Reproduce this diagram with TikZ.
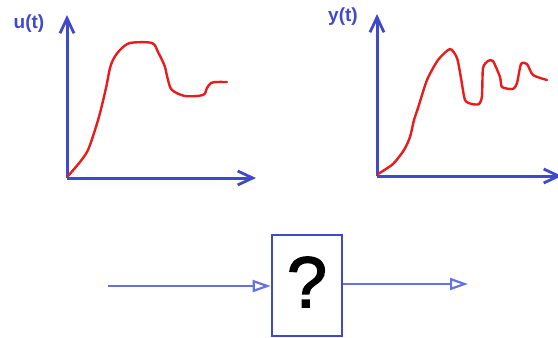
\documentclass[tikz,border=0pt]{standalone}
\usepackage{fontspec}
\setmainfont{Liberation Sans}
\newfontfamily\qmarkfont[FakeBold=2]{Liberation Sans}
\usepackage{tikz}
\usetikzlibrary{arrows.meta}
\definecolor{axisblue}{RGB}{64,72,204}
\definecolor{lineblue}{RGB}{104,114,222}
\definecolor{curvered}{RGB}{232,28,28}

\begin{document}
\begin{tikzpicture}[x=1pt, y=-1pt,
    axis/.style={draw=axisblue, line width=3pt, -{Straight Barb[length=15pt,width=14pt,line width=2.8pt]}},
    curve/.style={draw=curvered, line width=2.4pt, line join=round, line cap=round},
    lbl/.style={text=axisblue, font=\fontsize{19}{19}\bfseries\selectfont},
    signal/.style={draw=lineblue, line width=2.2pt, -{Triangle[open,length=18pt,width=12pt,line width=2.2pt]}},
    sysbox/.style={draw=axisblue, line width=2.6pt, minimum width=70pt, minimum height=101pt, inner sep=0pt}]
  \useasboundingbox (0,0) rectangle (558,338);
  % input signal
  \coordinate (u0) at (67,178);
  \coordinate (uy) at (67,15);
  \coordinate (ux) at (256,178);
  \draw[axis] (u0) -- (uy);
  \draw[axis] (u0) -- (ux);
  \node[lbl] (ulab) at (29,24) {u(t)};
  \draw[curve] plot[smooth, tension=0.5] coordinates {(68,176) (80,162) (88,150) (95,130) (100,113) (106,88) (110,68)
    (114,58) (120,50) (130,43) (152,43) (158,52) (162,60) (165,67) (168,80) (172,90) (185,96) (203,95) (207,88) (211,83) (217,82) (227,82)};
  % output signal
  \coordinate (y0) at (377,176);
  \coordinate (yy) at (377,14);
  \coordinate (yx) at (562,176);
  \draw[axis] (y0) -- (yy);
  \draw[axis] (y0) -- (yx);
  \node[lbl] (ylab) at (343,17) {y(t)};
  \draw[curve] plot[smooth, tension=0.4] coordinates {(378,174) (393,164) (404,150) (410,137) (414,120) (418,108) (427,80)
    (438,60) (450,49) (457,58) (461,78) (465,100) (472,104) (479,104) (482,96) (483,68) (488,61) (493,61) (500,77) (502,87)
    (513,89) (517,83) (521,64) (527,64) (533,75) (547,80)};
  % system block
  \node[sysbox] (sys) at (307,285.5) {\qmarkfont\fontsize{72}{72}\selectfont\raisebox{7pt}{?}};
  \coordinate (in) at (108,286);
  \coordinate (out) at (468,284);
  \draw[signal] (in) -- (in -| sys.west);
  \draw[signal] (sys.east |- out) -- (out);
\end{tikzpicture}
\end{document}
